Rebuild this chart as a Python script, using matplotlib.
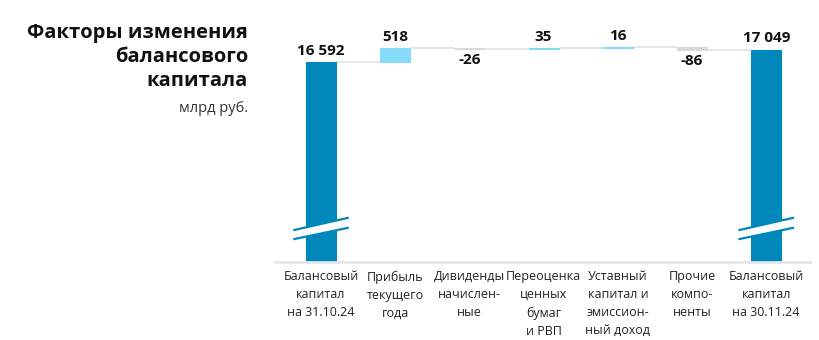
import matplotlib
matplotlib.use("Agg")
import matplotlib.pyplot as plt
import matplotlib.transforms as mtransforms
import numpy as np

plt.rcParams['font.family'] = ['Open Sans', 'DejaVu Sans']

# факторы изменения балансового капитала, млрд руб.
categories = [
    "Балансовый\nкапитал\nна 31.10.24",
    "Прибыль\nтекущего\nгода",
    "Дивиденды\nначислен-\nные",
    "Переоценка\nценных\nбумаг\nи РВП",
    "Уставный\nкапитал и\nэмиссион-\nный доход",
    "Прочие\nкомпо-\nненты",
    "Балансовый\nкапитал\nна 30.11.24",
]
start_value = 16592
changes = [518, -26, 35, 16, -86]
end_value = 17049
value_labels = ["16 592", "518", "-26", "35", "16", "-86", "17 049"]

DARK = "#0088bb"
LIGHT = "#87daf8"
GREY = "#d9d9d9"
LINE = "#e3e3e3"

fig = plt.figure(figsize=(8.2, 3.4), dpi=100)
ax = fig.add_axes([275 / 820, 1 - 262 / 340, 535 / 820, 232 / 340])

# шкала обрезана снизу: крайние столбцы показаны с разрывом
ax.set_ylim(9192, 17776)
ax.set_xlim(-0.62, 6.59)

width = 0.405
x = np.arange(len(categories))

bottoms = [ax.get_ylim()[0]]
heights = [start_value - ax.get_ylim()[0]]
colors = [DARK]
level = start_value
for ch in changes:
    bottoms.append(level if ch >= 0 else level + ch)
    heights.append(abs(ch))
    colors.append(LIGHT if ch >= 0 else GREY)
    level += ch
bottoms.append(ax.get_ylim()[0])
heights.append(end_value - ax.get_ylim()[0])
colors.append(DARK)

# соединительные линии между столбцами
levels = [start_value]
lv = start_value
for ch in changes:
    lv += ch
    levels.append(lv)
for i in range(len(x) - 1):
    ax.plot([x[i] + width / 2, x[i + 1] - width / 2], [levels[i], levels[i]],
            color=LINE, lw=1.3, zorder=1, solid_capstyle="butt")

ax.bar(x, heights, bottom=bottoms, width=width, color=colors,
       edgecolor=colors, linewidth=0.8, zorder=2)

# подписи значений
tops = [start_value] + [b + h for b, h in zip(bottoms[1:-1], heights[1:-1])] + [end_value]
for i, lab in enumerate(value_labels):
    if i in (0, len(x) - 1) or changes[i - 1] >= 0:
        ax.annotate(lab, (x[i], tops[i]), xytext=(0, 3), textcoords="offset points",
                    ha="center", va="bottom", fontsize=11, fontweight="bold", color="#111111")
    else:
        ax.annotate(lab, (x[i], bottoms[i]), xytext=(0, -3), textcoords="offset points",
                    ha="center", va="top", fontsize=11, fontweight="bold", color="#111111")

# знак разрыва на крайних столбцах
trans = mtransforms.blended_transform_factory(ax.transData, ax.transAxes)
for xi in (x[0], x[-1]):
    xs = [xi - 0.36, xi + 0.36]
    up = [0.138, 0.19]
    lo = [0.099, 0.147]
    ax.fill([xs[0], xs[1], xs[1], xs[0]], [lo[0], lo[1], up[1], up[0]],
            color="white", transform=trans, zorder=3, lw=0)
    ax.plot(xs, up, color=DARK, lw=1.6, transform=trans, zorder=4)
    ax.plot(xs, lo, color=DARK, lw=1.6, transform=trans, zorder=4)

for side in ("left", "right", "top"):
    ax.spines[side].set_visible(False)
ax.spines["bottom"].set_color("#e6e6e6")
ax.spines["bottom"].set_linewidth(2)
ax.set_yticks([])
ax.set_xticks(x)
ax.set_xticklabels(categories, fontsize=9, linespacing=1.5, color="#222222")
ax.tick_params(axis="x", length=0, pad=6)

fig.text(248 / 820, 1 - 23 / 340, "Факторы изменения\nбалансового\nкапитала",
         ha="right", va="top", fontsize=14.5, fontweight="bold", linespacing=1.27,
         color="#111111")
fig.text(248 / 820, 1 - 101 / 340, "млрд руб.", ha="right", va="top",
         fontsize=10.5, color="#333333")

fig.savefig("out.png", dpi=100)
